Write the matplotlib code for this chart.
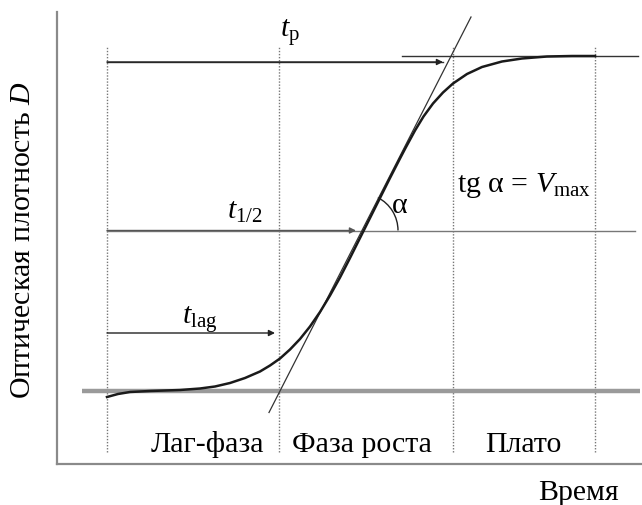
import numpy as np
import matplotlib.pyplot as plt
from matplotlib.patches import Arc

plt.rcParams["font.family"] = ["Liberation Serif", "DejaVu Serif"]
plt.rcParams["mathtext.fontset"] = "custom"
plt.rcParams["mathtext.rm"] = "Liberation Serif"
plt.rcParams["mathtext.it"] = "Liberation Serif:italic"

# growth curve (time, optical density)
curve_t = [1.00, 1.22, 1.46, 1.86, 2.46, 2.86, 3.16, 3.46, 3.76, 4.06, 4.26,
           4.46, 4.66, 4.86, 5.06, 5.26, 5.46, 5.66, 5.86, 6.06, 6.26, 6.46,
           6.66, 6.86, 6.97, 7.16, 7.33, 7.52, 7.72, 7.92, 8.20, 8.50, 8.90,
           9.30, 9.80, 10.30, 10.76]
curve_D = [1.34, 1.40, 1.44, 1.46, 1.48, 1.51, 1.55, 1.62, 1.72, 1.85, 1.97,
           2.11, 2.29, 2.50, 2.75, 3.04, 3.37, 3.73, 4.12, 4.52, 4.92, 5.32,
           5.72, 6.11, 6.32, 6.67, 6.95, 7.21, 7.43, 7.61, 7.80, 7.94, 8.05,
           8.11, 8.15, 8.16, 8.16]

# tangent at the inflection point
tangent_t = [4.24, 8.28]
tangent_D = [1.03, 8.94]

phase_bounds = [1.0, 4.44, 7.92, 10.76]
phase_names = ["Лаг-фаза", "Фаза роста", "Плато"]
phase_label_t = [3.0, 6.1, 9.32]

D_base = 1.46
D_half = 4.67
D_top = 8.04
D_plateau = 8.16
t_half = 6.08
t_p = 7.72
t_lag = 4.36
D_lag_arrow = 2.62

fig = plt.figure(figsize=(6.42, 5.06), dpi=100)
ax = fig.add_axes([57 / 642, 41 / 506, 585 / 642, 452 / 506])
ax.set_xlim(0, 11.7)
ax.set_ylim(0, 9.04)
ax.set_xticks([])
ax.set_yticks([])
for s in ["top", "right"]:
    ax.spines[s].set_visible(False)
for s in ["left", "bottom"]:
    ax.spines[s].set_color("#8a8a8a")
    ax.spines[s].set_linewidth(1.6)

# phase boundaries
for t in phase_bounds:
    ax.plot([t, t], [0.24, 8.34], color="#777777", lw=1.0,
            linestyle=(0, (1, 1.2)))

# reference lines
ax.plot([0.5, 11.66], [D_base, D_base], color="#9a9a9a", lw=3.2,
        solid_capstyle="butt")
ax.plot([1.0, 11.56], [D_half, D_half], color="#777777", lw=1.0)
ax.plot([6.9, 11.62], [D_plateau, D_plateau], color="#333333", lw=1.0)
ax.plot([1.0, t_p], [D_top, D_top], color="#333333", lw=1.0)

arrow = dict(arrowstyle="-|>", mutation_scale=9, color="#222222", lw=1.0,
             shrinkA=0, shrinkB=0)
ax.annotate("", xy=(t_p, D_top), xytext=(1.0, D_top), arrowprops=arrow)
ax.annotate("", xy=(t_half - 0.1, D_half), xytext=(1.0, D_half),
            arrowprops=dict(arrow, color="#555555"))
ax.annotate("", xy=(t_lag, D_lag_arrow), xytext=(1.0, D_lag_arrow),
            arrowprops=arrow)

# tangent and curve
ax.plot(tangent_t, tangent_D, color="#333333", lw=0.9)
ax.plot(curve_t, curve_D, color="#1a1a1a", lw=1.8)

# angle alpha
ang = np.degrees(np.arctan2(tangent_D[1] - tangent_D[0],
                            tangent_t[1] - tangent_t[0]))
ax.add_patch(Arc((t_half, D_half), 1.48, 1.48, theta1=0, theta2=ang,
                 color="#222222", lw=1.0))

fs = 21.5
ax.text(4.66, 8.66, r"$t_{\mathrm{p}}$", fontsize=fs, ha="center", va="center")
ax.text(3.76, 5.06, r"$t_{1/2}$", fontsize=fs, ha="center", va="center")
ax.text(2.86, 2.9, r"$t_{\mathrm{lag}}$", fontsize=fs, ha="center", va="center")
ax.text(6.86, 5.18, "α", fontsize=fs, ha="center", va="center")
ax.text(9.34, 5.58, r"tg α = $V_{\mathrm{max}}$", fontsize=fs,
        ha="center", va="center")

for name, t in zip(phase_names, phase_label_t):
    ax.text(t, 0.4, name, fontsize=fs, ha="center", va="center")

fig.text(578 / 642, 1 - 493 / 506, "Время", fontsize=fs,
         ha="center", va="center")
fig.text(23 / 642, 1 - 240 / 506, "Оптическая плотность $D$", fontsize=fs,
         rotation=90, ha="center", va="center")

fig.savefig("out.png", dpi=100)
